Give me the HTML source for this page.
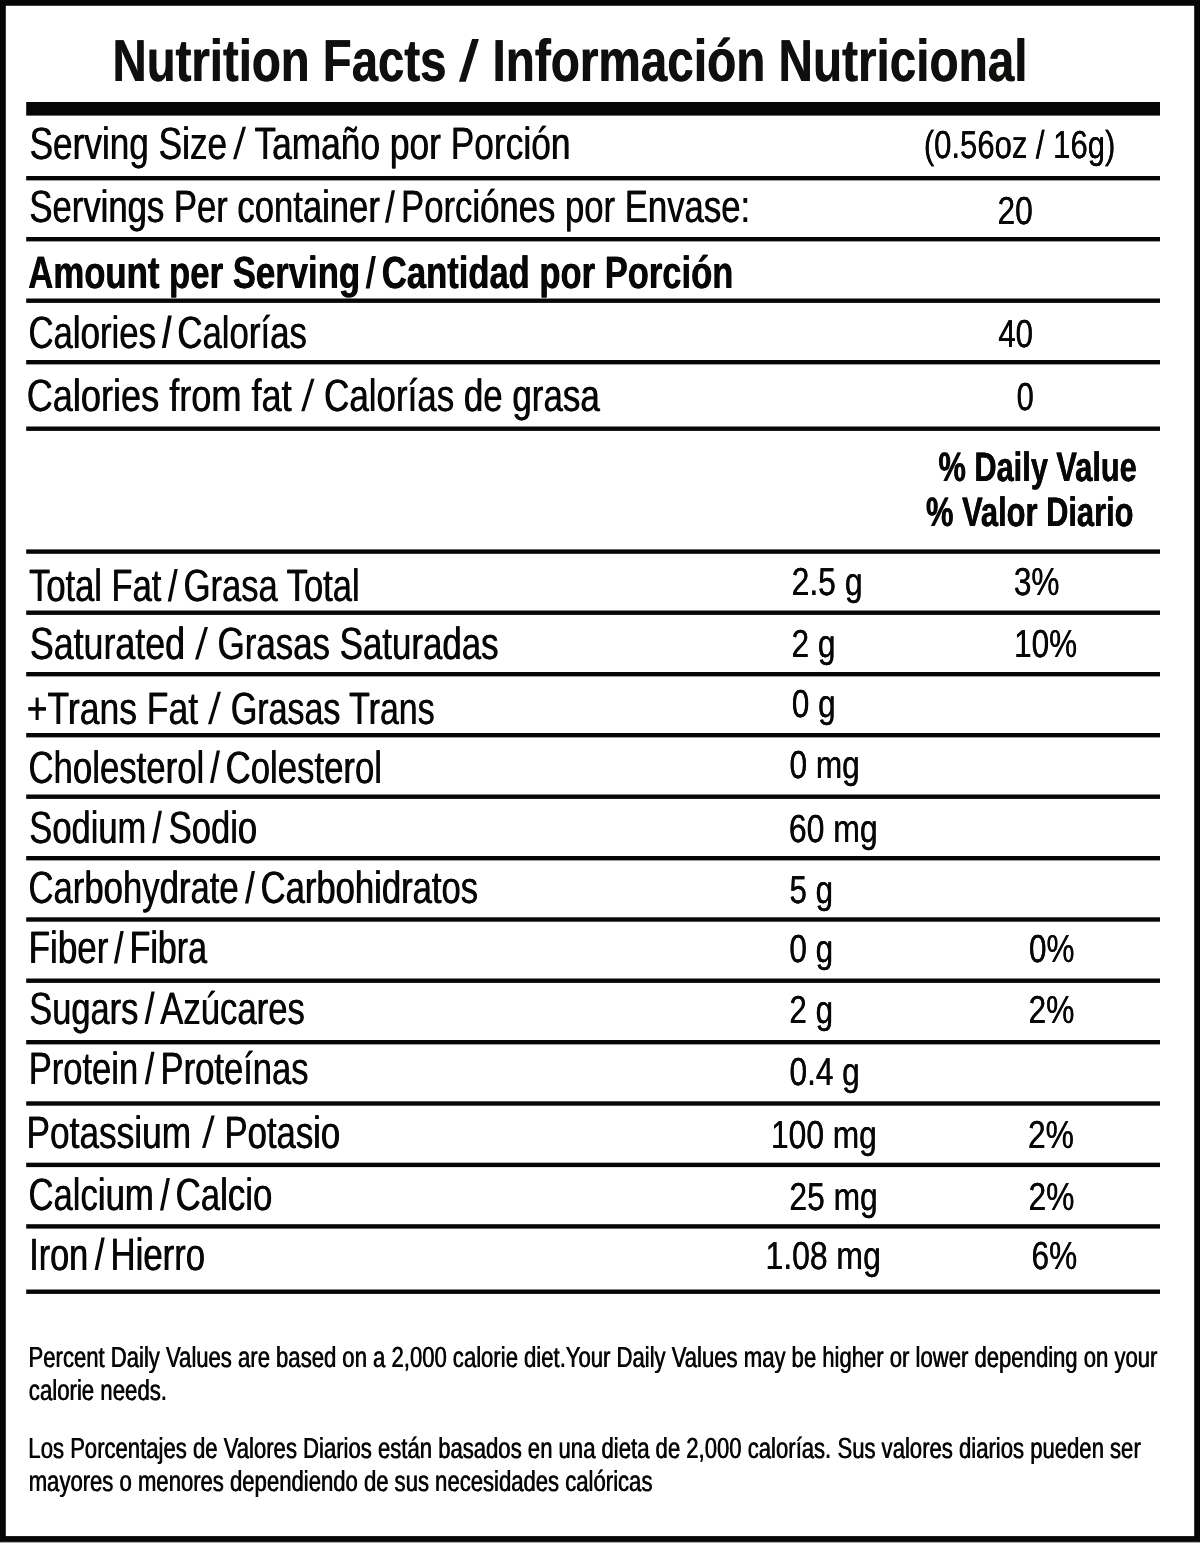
<!DOCTYPE html>
<html><head><meta charset="utf-8"><title>Nutrition Facts</title>
<style>html,body{margin:0;padding:0;background:#fff;}svg{display:block;will-change:transform;}text{text-rendering:geometricPrecision;font-family:"Liberation Sans",sans-serif;}</style>
</head><body>
<svg width="1200" height="1543" viewBox="0 0 1200 1543">
<rect x="0" y="0" width="1200" height="1543" fill="#fff"/>
<rect x="0" y="1542" width="1200" height="1" fill="#aaa"/>
<rect x="2.9" y="2.85" width="1194.2" height="1536.15" fill="none" stroke="#060606" stroke-width="5.8"/>
<rect x="26.2" y="102" width="1133.8" height="13.6" fill="#060606"/>
<rect x="26.2" y="176" width="1133.8" height="4.4" fill="#060606"/>
<rect x="26.2" y="237" width="1133.8" height="4.4" fill="#060606"/>
<rect x="26.2" y="298.5" width="1133.8" height="4.4" fill="#060606"/>
<rect x="26.2" y="360" width="1133.8" height="4.4" fill="#060606"/>
<rect x="26.2" y="426.5" width="1133.8" height="4.4" fill="#060606"/>
<rect x="26.2" y="549.4" width="1133.8" height="4.4" fill="#060606"/>
<rect x="26.2" y="610.5" width="1133.8" height="4.4" fill="#060606"/>
<rect x="26.2" y="672" width="1133.8" height="4.4" fill="#060606"/>
<rect x="26.2" y="733" width="1133.8" height="4.4" fill="#060606"/>
<rect x="26.2" y="794.5" width="1133.8" height="4.4" fill="#060606"/>
<rect x="26.2" y="856" width="1133.8" height="4.4" fill="#060606"/>
<rect x="26.2" y="917.3" width="1133.8" height="4.4" fill="#060606"/>
<rect x="26.2" y="978.5" width="1133.8" height="4.4" fill="#060606"/>
<rect x="26.2" y="1040" width="1133.8" height="4.4" fill="#060606"/>
<rect x="26.2" y="1101.3" width="1133.8" height="4.4" fill="#060606"/>
<rect x="26.2" y="1162.7" width="1133.8" height="4.4" fill="#060606"/>
<rect x="26.2" y="1224.2" width="1133.8" height="4.4" fill="#060606"/>
<rect x="26.2" y="1289.5" width="1133.8" height="4.4" fill="#060606"/>
<g id="g_title" style="fill:#110f0d;stroke:#110f0d;stroke-width:0.0px" transform="translate(-0.3 0)">
<text transform="translate(112.54 81.30) scale(0.7980 1)" font-size="59.3" font-weight="bold">Nutrition Facts</text>
<text transform="translate(492.52 81.30) scale(0.8039 1)" font-size="59.3" font-weight="bold">Información Nutricional</text>
</g>
<use href="#g_title" x="0.6"/>
<g id="g_rows" style="fill:#070707;stroke:#070707;stroke-width:0.0px" transform="translate(-0.3 0)">
<text transform="translate(29.60 158.80) scale(0.7767 1)" font-size="45.3">Serving Size</text>
<text transform="translate(254.45 158.80) scale(0.7796 1)" font-size="45.3">Tamaño por Porción</text>
<text transform="translate(29.42 222.30) scale(0.7648 1)" font-size="45.3">Servings Per container</text>
<text transform="translate(401.04 222.30) scale(0.7660 1)" font-size="45.3">Porciónes por Envase:</text>
<text transform="translate(28.26 288.20) scale(0.7666 1)" font-size="45.3" font-weight="bold">Amount per Serving</text>
<text transform="translate(381.92 288.20) scale(0.7631 1)" font-size="45.3" font-weight="bold">Cantidad por Porción</text>
<text transform="translate(28.47 347.60) scale(0.7674 1)" font-size="45.3">Calories</text>
<text transform="translate(177.37 347.60) scale(0.7675 1)" font-size="45.3">Calorías</text>
<text transform="translate(26.71 410.80) scale(0.7974 1)" font-size="45.3">Calories from fat</text>
<text transform="translate(324.16 410.80) scale(0.7708 1)" font-size="45.3">Calorías de grasa</text>
<text transform="translate(29.16 601.20) scale(0.7611 1)" font-size="45.3">Total Fat</text>
<text transform="translate(183.63 601.20) scale(0.7626 1)" font-size="45.3">Grasa Total</text>
<text transform="translate(29.88 659.20) scale(0.7897 1)" font-size="45.3">Saturated</text>
<text transform="translate(217.62 659.20) scale(0.7696 1)" font-size="45.3">Grasas Saturadas</text>
<text transform="translate(26.74 723.80) scale(0.7840 1)" font-size="45.3">+Trans Fat</text>
<text transform="translate(230.91 723.80) scale(0.7495 1)" font-size="45.3">Grasas Trans</text>
<text transform="translate(28.47 782.50) scale(0.7673 1)" font-size="45.3">Cholesterol</text>
<text transform="translate(225.62 782.50) scale(0.7670 1)" font-size="45.3">Colesterol</text>
<text transform="translate(29.32 842.80) scale(0.7615 1)" font-size="45.3">Sodium</text>
<text transform="translate(168.67 842.80) scale(0.7637 1)" font-size="45.3">Sodio</text>
<text transform="translate(28.47 903.00) scale(0.7658 1)" font-size="45.3">Carbohydrate</text>
<text transform="translate(260.63 903.00) scale(0.7642 1)" font-size="45.3">Carbohidratos</text>
<text transform="translate(28.67 963.20) scale(0.7728 1)" font-size="45.3">Fiber</text>
<text transform="translate(129.59 963.20) scale(0.7503 1)" font-size="45.3">Fibra</text>
<text transform="translate(29.32 1023.60) scale(0.7594 1)" font-size="45.3">Sugars</text>
<text transform="translate(160.25 1023.60) scale(0.7657 1)" font-size="45.3">Azúcares</text>
<text transform="translate(28.70 1083.80) scale(0.7628 1)" font-size="45.3">Protein</text>
<text transform="translate(160.55 1083.80) scale(0.7635 1)" font-size="45.3">Proteínas</text>
<text transform="translate(26.55 1147.70) scale(0.7780 1)" font-size="45.3">Potassium</text>
<text transform="translate(224.54 1147.70) scale(0.7652 1)" font-size="45.3">Potasio</text>
<text transform="translate(28.47 1210.00) scale(0.7660 1)" font-size="45.3">Calcium</text>
<text transform="translate(175.62 1210.00) scale(0.7689 1)" font-size="45.3">Calcio</text>
<text transform="translate(29.23 1269.50) scale(0.7551 1)" font-size="45.3">Iron</text>
<text transform="translate(110.53 1269.50) scale(0.7672 1)" font-size="45.3">Hierro</text>
</g>
<use href="#g_rows" x="0.6"/>
<g id="g_dv" style="fill:#070707;stroke:#070707;stroke-width:0.2px" transform="translate(-0.15 0)">
<text transform="translate(938.52 480.80) scale(0.7499 1)" font-size="41" font-weight="bold">% Daily Value</text>
<text transform="translate(926.02 525.75) scale(0.7526 1)" font-size="41" font-weight="bold">% Valor Diario</text>
</g>
<use href="#g_dv" x="0.3"/>
<g id="g_vals" style="fill:#070707;stroke:#070707;stroke-width:0.1px" transform="translate(-0.1 0)">
<text transform="translate(923.79 158.40) scale(0.7960 1)" font-size="39">(0.56oz / 16g)</text>
<text transform="translate(997.51 223.80) scale(0.8132 1)" font-size="39">20</text>
<text transform="translate(998.31 346.70) scale(0.7991 1)" font-size="39">40</text>
<text transform="translate(1016.54 409.90) scale(0.7897 1)" font-size="39">0</text>
<text transform="translate(791.60 594.70) scale(0.8184 1)" font-size="39">2.5 g</text>
<text transform="translate(1013.91 594.70) scale(0.8095 1)" font-size="39">3%</text>
<text transform="translate(791.52 656.60) scale(0.8118 1)" font-size="39">2 g</text>
<text transform="translate(1014.03 656.60) scale(0.8072 1)" font-size="39">10%</text>
<text transform="translate(791.92 716.50) scale(0.8040 1)" font-size="39">0 g</text>
<text transform="translate(789.51 777.80) scale(0.8104 1)" font-size="39">0 mg</text>
<text transform="translate(788.80 842.00) scale(0.8201 1)" font-size="39">60 mg</text>
<text transform="translate(789.52 903.20) scale(0.8021 1)" font-size="39">5 g</text>
<text transform="translate(789.42 962.30) scale(0.8070 1)" font-size="39">0 g</text>
<text transform="translate(1029.02 962.30) scale(0.8058 1)" font-size="39">0%</text>
<text transform="translate(789.43 1022.75) scale(0.8038 1)" font-size="39">2 g</text>
<text transform="translate(1028.51 1022.75) scale(0.8150 1)" font-size="39">2%</text>
<text transform="translate(789.51 1084.90) scale(0.8100 1)" font-size="39">0.4 g</text>
<text transform="translate(771.02 1147.75) scale(0.8130 1)" font-size="39">100 mg</text>
<text transform="translate(1028.01 1147.75) scale(0.8150 1)" font-size="39">2%</text>
<text transform="translate(789.41 1210.10) scale(0.8144 1)" font-size="39">25 mg</text>
<text transform="translate(1028.51 1210.10) scale(0.8150 1)" font-size="39">2%</text>
<text transform="translate(765.51 1269.30) scale(0.8181 1)" font-size="39">1.08 mg</text>
<text transform="translate(1031.52 1269.30) scale(0.8103 1)" font-size="39">6%</text>
</g>
<use href="#g_vals" x="0.2"/>
<g id="g_foot" style="fill:#070707;stroke:#070707;stroke-width:0.1px" transform="translate(-0.25 0)">
<text transform="translate(28.57 1366.80) scale(0.7614 1)" font-size="29">Percent Daily Values are based on a 2,000 calorie diet.Your Daily Values may be higher or lower depending on your</text>
<text transform="translate(28.81 1399.70) scale(0.7654 1)" font-size="29">calorie needs.</text>
<text transform="translate(28.37 1457.80) scale(0.7619 1)" font-size="29">Los Porcentajes de Valores Diarios están basados en una dieta de 2,000 calorías. Sus valores diarios pueden ser</text>
<text transform="translate(28.72 1490.50) scale(0.7616 1)" font-size="29">mayores o menores dependiendo de sus necesidades calóricas</text>
</g>
<use href="#g_foot" x="0.5"/>
<polygon points="458.90,81.80 465.75,81.80 478.90,39.10 472.05,39.10" fill="#110f0d"/>
<polygon points="233.00,159.20 236.30,159.20 246.00,126.70 242.70,126.70" fill="#070707"/>
<polygon points="385.00,222.70 388.30,222.70 395.00,190.20 391.70,190.20" fill="#070707"/>
<polygon points="365.65,288.60 369.65,288.60 375.85,256.10 371.85,256.10" fill="#070707"/>
<polygon points="161.90,348.00 165.70,348.00 171.80,315.50 168.00,315.50" fill="#070707"/>
<polygon points="301.20,411.20 304.50,411.20 314.50,378.70 311.20,378.70" fill="#070707"/>
<polygon points="167.75,601.60 171.05,601.60 177.75,569.10 174.45,569.10" fill="#070707"/>
<polygon points="195.00,659.60 198.30,659.60 208.00,627.10 204.70,627.10" fill="#070707"/>
<polygon points="208.00,724.20 211.30,724.20 221.00,691.70 217.70,691.70" fill="#070707"/>
<polygon points="210.00,782.90 213.30,782.90 220.00,750.40 216.70,750.40" fill="#070707"/>
<polygon points="152.25,843.20 155.55,843.20 162.00,810.70 158.70,810.70" fill="#070707"/>
<polygon points="245.00,903.40 248.30,903.40 255.00,870.90 251.70,870.90" fill="#070707"/>
<polygon points="113.90,963.60 117.20,963.60 123.75,931.10 120.45,931.10" fill="#070707"/>
<polygon points="144.60,1024.00 147.90,1024.00 154.75,991.50 151.45,991.50" fill="#070707"/>
<polygon points="144.75,1084.20 148.05,1084.20 154.50,1051.70 151.20,1051.70" fill="#070707"/>
<polygon points="202.00,1148.10 205.30,1148.10 214.75,1115.60 211.45,1115.60" fill="#070707"/>
<polygon points="160.00,1210.40 163.30,1210.40 169.90,1177.90 166.60,1177.90" fill="#070707"/>
<polygon points="94.60,1269.90 97.90,1269.90 104.75,1237.40 101.45,1237.40" fill="#070707"/>
</svg>
</body></html>
